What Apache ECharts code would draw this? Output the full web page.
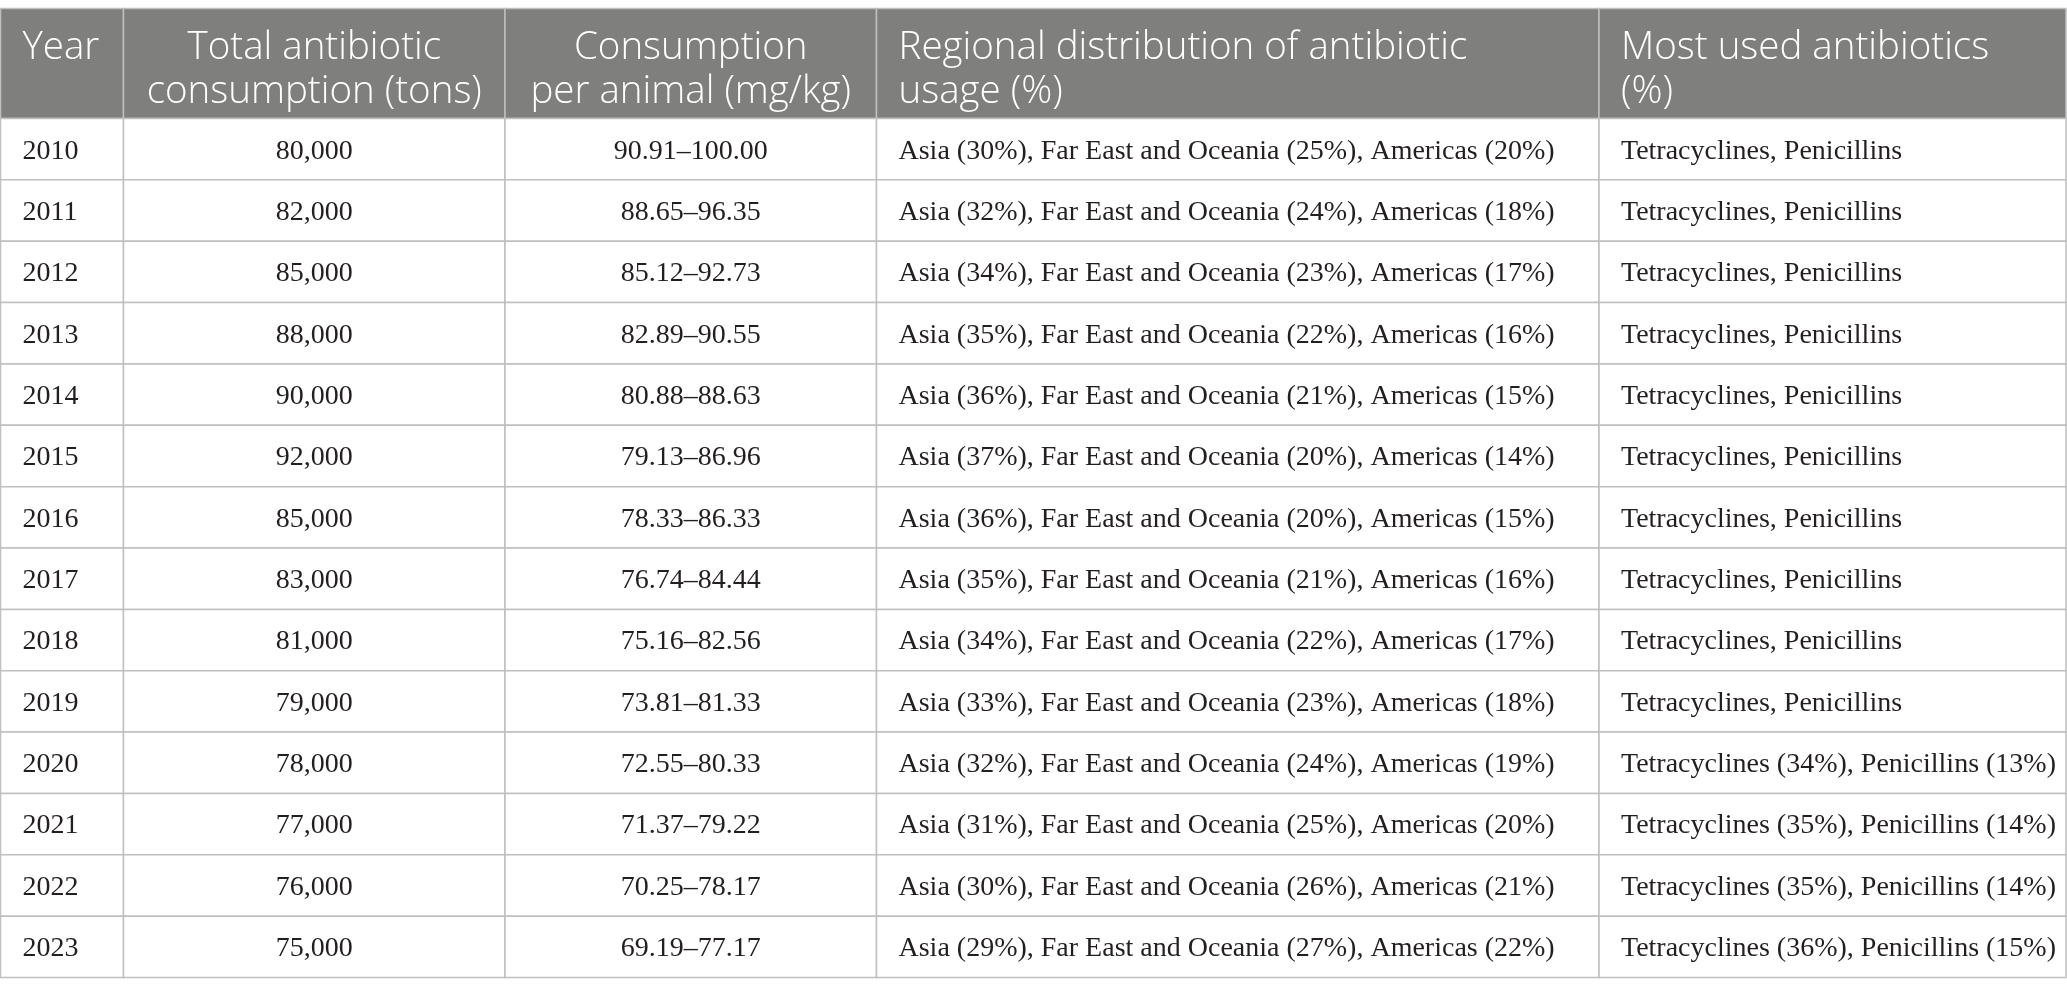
<!DOCTYPE html>
<html><head><meta charset="utf-8">
<script src="https://cdn.jsdelivr.net/npm/echarts@6/dist/echarts.min.js"></script>
<style>html,body{margin:0;padding:0;background:#fff}#c{width:2067px;height:996px}</style>
</head><body><div id="c"></div>
<script>
// ---------- data ----------
const columnHeaders = ['Year', 'Total antibiotic\nconsumption (tons)', 'Consumption\nper animal (mg/kg)', 'Regional distribution of antibiotic\nusage (%)', 'Most used antibiotics\n(%)'];
const years = ['2010','2011','2012','2013','2014','2015','2016','2017','2018','2019','2020','2021','2022','2023'];
const totalTons = [80000, 82000, 85000, 88000, 90000, 92000, 85000, 83000, 81000, 79000, 78000, 77000, 76000, 75000];
const perAnimalLow = [90.91, 88.65, 85.12, 82.89, 80.88, 79.13, 78.33, 76.74, 75.16, 73.81, 72.55, 71.37, 70.25, 69.19];
const perAnimalHigh = [100.00, 96.35, 92.73, 90.55, 88.63, 86.96, 86.33, 84.44, 82.56, 81.33, 80.33, 79.22, 78.17, 77.17];
const asiaPct = [30, 32, 34, 35, 36, 37, 36, 35, 34, 33, 32, 31, 30, 29];
const farEastPct = [25, 24, 23, 22, 21, 20, 20, 21, 22, 23, 24, 25, 26, 27];
const americasPct = [20, 18, 17, 16, 15, 14, 15, 16, 17, 18, 19, 20, 21, 22];
const tetracyclinePct = [null, null, null, null, null, null, null, null, null, null, 34, 35, 35, 36];
const penicillinPct = [null, null, null, null, null, null, null, null, null, null, 13, 14, 14, 15];

// ---------- layout ----------
const W = 2067, H = 996;
const colEdges = [0.5, 123.5, 505, 876.5, 1599, 2066];
const colAlign = ['left', 'center', 'center', 'left', 'left'];
const headerTop = 8.5, headerBottom = 118.5, rowH = 61.36;
const padX = 22;

function bodyText(c, i) {
  if (c === 0) return years[i];
  if (c === 1) return totalTons[i].toLocaleString('en-US');
  if (c === 2) return perAnimalLow[i].toFixed(2) + '\u2013' + perAnimalHigh[i].toFixed(2);
  if (c === 3) return 'Asia (' + asiaPct[i] + '%), Far East and Oceania (' + farEastPct[i] + '%), Americas (' + americasPct[i] + '%)';
  if (tetracyclinePct[i] == null) return 'Tetracyclines, Penicillins';
  return 'Tetracyclines (' + tetracyclinePct[i] + '%), Penicillins (' + penicillinPct[i] + '%)';
}

const cells = [];
for (let r = 0; r <= years.length; r++) for (let c = 0; c < columnHeaders.length; c++) cells.push([c, r]);

const chart = echarts.init(document.getElementById('c'));
chart.setOption({
  animation: false,
  grid: { left: 0, right: 0, top: 0, bottom: 0 },
  xAxis: { type: 'value', min: 0, max: W, show: false },
  yAxis: { type: 'value', min: 0, max: H, inverse: true, show: false },
  series: [{
    type: 'custom',
    data: cells,
    clip: false,
    renderItem: function (params, api) {
      const c = api.value(0), r = api.value(1);
      const isHead = r === 0;
      const y0 = isHead ? headerTop : headerBottom + (r - 1) * rowH;
      const y1 = isHead ? headerBottom : headerBottom + r * rowH;
      const p0 = api.coord([colEdges[c], y0]);
      const p1 = api.coord([colEdges[c + 1], y1]);
      const align = colAlign[c];
      const tx = align === 'center' ? (p0[0] + p1[0]) / 2 : p0[0] + padX;
      const children = [{
        type: 'rect',
        shape: { x: p0[0], y: p0[1], width: p1[0] - p0[0], height: p1[1] - p0[1] },
        style: { fill: isHead ? '#7f807e' : '#ffffff', stroke: '#bfbfbf', lineWidth: 1.5 }
      }];
      if (isHead) {
        children.push({
          type: 'text',
          style: {
            text: columnHeaders[c], x: tx, y: p0[1] + 17.5,
            fill: '#ffffff', font: '300 38.5px "Open Sans"', align: align, verticalAlign: 'top', lineHeight: 44
          }
        });
      } else {
        children.push({
          type: 'text',
          style: {
            text: bodyText(c, r - 1), x: tx, y: (p0[1] + p1[1]) / 2 + 2,
            fill: '#231f20', font: '28px "Liberation Serif"', align: align, verticalAlign: 'middle'
          }
        });
      }
      return { type: 'group', children: children };
    }
  }]
});
</script></body></html>
